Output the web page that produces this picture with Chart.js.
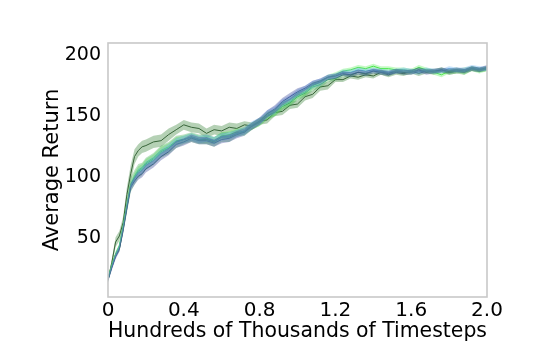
<!DOCTYPE html>
<html>
<head>
<meta charset="utf-8">
<script src="https://cdn.jsdelivr.net/npm/chart.js@4/dist/chart.umd.min.js"></script>
<style>
html,body{margin:0;padding:0;background:#fff;}
#wrap{width:540px;height:360px;}
</style>
</head>
<body>
<div id="wrap"><canvas id="c" width="540" height="360"></canvas></div>
<script>
const xValues = [0,0.02,0.04,0.06,0.08,0.1,0.12,0.14,0.16,0.18,0.2,0.24,0.28,0.32,0.36,0.4,0.44,0.48,0.52,0.56,0.6,0.64,0.68,0.72,0.76,0.8,0.84,0.88,0.92,0.96,1.0,1.04,1.08,1.12,1.16,1.2,1.24,1.28,1.32,1.36,1.4,1.44,1.48,1.52,1.56,1.6,1.64,1.68,1.72,1.76,1.8,1.84,1.88,1.92,1.96,2.0];

const navyMean = [16,26,35,41,57,75,92,97,101,103,107,111,117,121,127,129,132,130,130,128,131,132,135,137,142,146,152,156,162,166,170,173,177,179,182,183,185,184,186,185,187,186,185,187,186,186,188,186,187,188,187,188,187,189,188,190];
const navySpread = [2,2,2,2,3,3,3,3,3,3,3,3,3,3,3,3,3,3,3,3,3,3,3,3,3,3,3,3,3,3,3,2,2,2,2,2,2,2,2,2,2,2,2,2,2,2,2,2,2,2,2,2,2,2,2,2];

const lightBlueMean = [17,27,36,43,59,77,93,99,104,106,110,114,120,124,129,131,133,131,132,130,133,134,136,138,143,146,152,155,161,164,169,172,176,178,182,183,186,186,188,187,188,187,186,187,188,187,186,188,187,187,189,188,188,190,189,189];
const lightBlueSpread = [2,2,2,2,3,3,3,3,3,3,3,3,3,3,3,3,3,3,3,3,3,3,3,3,3,3,3,3,3,3,3,3,3,3,2,2,2,2,2,2,2,2,2,2,2,2,2,2,2,2,2,2,2,2,2,2];

const brightGreenMean = [17,28,37,44,60,78,94,101,106,108,112,116,122,125,130,131,133,131,131,130,134,135,137,137,142,145,151,153,159,162,167,170,175,178,182,184,187,188,190,189,191,189,189,188,188,187,190,188,186,184,187,188,186,189,187,189];
const brightGreenSpread = [2,2,2,2,3,3,3,3,3,3,3,3,3,3,3,3,3,3,3,3,3,3,3,3,3,3,3,3,3,3,3,3,3,2,2,2,2,2,2,2,2,2,2,2,2,2,2,2,2,2,2,2,2,2,2,2];

const midGreenMean = [17,27,37,42,58,76,94,100,105,107,111,115,121,124,129,131,133,131,131,129,133,133,136,138,142,145,150,153,158,161,166,169,174,176,180,181,184,184,186,185,187,186,185,187,186,186,188,187,187,188,186,187,188,189,188,189];
const midGreenSpread = [2,2,2,3,4,5,6,6,6,5,5,5,5,5,5,4,4,4,4,4,4,4,3,3,3,3,3,3,3,3,3,3,3,3,2,2,2,2,2,2,2,2,2,2,2,2,2,2,2,2,2,2,2,2,2,2];

const darkGreenMean = [16,30,47,52,63,86,103,117,122,125,126,129,130,135,139,143,141,140,136,139,138,141,140,143,142,146,147,153,154,159,160,166,168,174,175,180,180,183,182,184,183,186,184,186,185,187,185,187,186,188,186,187,186,189,188,189];
const darkGreenSpread = [2,3,4,4,5,6,7,6,5,5,5,5,5,5,4,4,4,4,4,4,4,4,4,3,3,3,3,3,3,3,3,3,3,3,3,2,2,2,2,2,2,2,2,2,2,2,2,2,2,2,2,2,2,2,2,2];

const xTicks = [0,0.4,0.8,1.2,1.6,2.0];
const xTickLabels = ["0","0.4","0.8","1.2","1.6","2.0"];
const yTicks = [50,100,150,200];

const seriesList = [
  {mean: navyMean, spread: navySpread, line: '#27346a', band: 'rgba(70,82,160,0.40)'},
  {mean: lightBlueMean, spread: lightBlueSpread, line: '#4a9ee0', band: 'rgba(110,180,240,0.40)'},
  {mean: midGreenMean, spread: midGreenSpread, line: '#1e9a3e', band: 'rgba(60,170,80,0.35)'},
  {mean: brightGreenMean, spread: brightGreenSpread, line: '#2ee02e', band: 'rgba(110,240,110,0.40)'},
  {mean: darkGreenMean, spread: darkGreenSpread, line: '#2e4a30', band: 'rgba(70,140,70,0.40)'}
];

const datasets = [];
seriesList.forEach(s => {
  datasets.push({
    data: xValues.map((x,i)=>({x, y: s.mean[i] + s.spread[i]})),
    borderWidth: 0, pointRadius: 0, fill: false, borderColor: 'rgba(0,0,0,0)', tension: 0
  });
  datasets.push({
    data: xValues.map((x,i)=>({x, y: s.mean[i] - s.spread[i]})),
    borderWidth: 0, pointRadius: 0, fill: '-1', backgroundColor: s.band, borderColor: 'rgba(0,0,0,0)', tension: 0
  });
});
seriesList.forEach(s => {
  datasets.push({
    data: xValues.map((x,i)=>({x, y: s.mean[i]})),
    borderWidth: 1, pointRadius: 0, fill: false, borderColor: s.line, tension: 0
  });
});

const boxPlugin = {
  id: 'box',
  afterDraw(chart) {
    const {ctx, chartArea: a} = chart;
    ctx.save();
    ctx.strokeStyle = '#c8c8c8';
    ctx.lineWidth = 1.6;
    ctx.strokeRect(a.left, a.top, a.right - a.left, a.bottom - a.top);
    ctx.restore();
  }
};

const titleFont = {family: 'DejaVu Sans', size: 21};
const xTickFont = {family: 'DejaVu Sans', size: 20};
const yTickFont = {family: 'DejaVu Sans', size: 19};

new Chart(document.getElementById('c'), {
  type: 'line',
  data: {datasets},
  plugins: [boxPlugin],
  options: {
    responsive: false,
    animation: false,
    events: [],
    layout: {padding: {left: 0, right: 53, top: 43, bottom: 0}},
    plugins: {legend: {display: false}, tooltip: {enabled: false}, filler: {propagate: false}},
    scales: {
      x: {
        type: 'linear', min: 0, max: 2.0,
        afterBuildTicks: (scale) => { scale.ticks = xTicks.map(v => ({value: v})); },
        afterFit: (scale) => { scale.height = 63; },
        ticks: {
          font: xTickFont, color: '#000', padding: 2, maxRotation: 0, autoSkip: false,
          callback: (v) => { const i = xTicks.indexOf(v); return i >= 0 ? xTickLabels[i] : ''; }
        },
        grid: {display: false, drawTicks: false},
        border: {display: false},
        title: {display: true, text: 'Hundreds of Thousands of Timesteps', font: titleFont, color: '#000', padding: {top: 0, bottom: 16}}
      },
      y: {
        type: 'linear', min: 2, max: 210,
        afterBuildTicks: (scale) => { scale.ticks = yTicks.map(v => ({value: v})); },
        afterFit: (scale) => { scale.width = 108; },
        ticks: {font: yTickFont, color: '#000', padding: 7},
        grid: {display: false, drawTicks: false},
        border: {display: false},
        title: {display: true, text: 'Average Return', font: titleFont, color: '#000', padding: {top: 40, bottom: 0}}
      }
    }
  }
});
</script>
</body>
</html>
